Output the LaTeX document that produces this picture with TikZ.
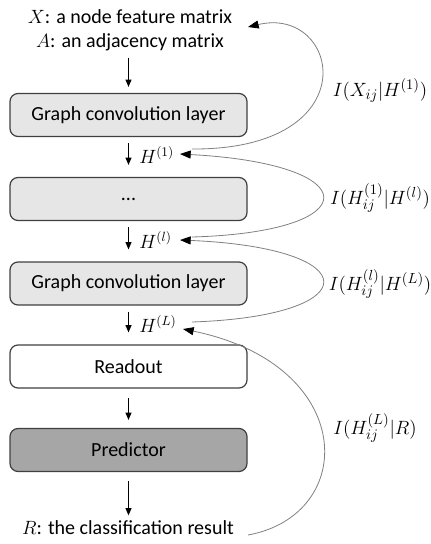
\documentclass[tikz,border=0pt]{standalone}
\usepackage{fontspec}
\setmainfont{Carlito}
\usetikzlibrary{arrows.meta}
\definecolor{boxlight}{HTML}{E6E6E6}
\definecolor{boxdark}{HTML}{A6A6A6}
\definecolor{edgecol}{HTML}{404040}
\definecolor{curvecol}{HTML}{808080}
\begin{document}
\begin{tikzpicture}[x=0.75pt,y=-0.75pt,
  layer/.style={draw=edgecol, line width=0.9pt, rounded corners=6pt,
    minimum width=177.75pt, minimum height=32.25pt, inner sep=0pt,
    font=\fontsize{15}{18}\selectfont},
  txt/.style={font=\fontsize{15}{18}\selectfont, inner sep=0pt},
  mlab/.style={font=\fontsize{15.5}{18}\selectfont, inner sep=0pt},
  hlab/.style={font=\fontsize{14.5}{17}\selectfont, inner sep=0pt, anchor=west},
  flow/.style={-{Triangle[length=5.5pt,width=4.5pt]}, line width=0.8pt, black},
  info/.style={-{Triangle[length=8pt,width=6pt,color=black]}, draw=curvecol, line width=0.6pt}]
\useasboundingbox (0,0) rectangle (431,544);

% main column
\node[txt] (in1) at (130,17) {$X$: a node feature matrix};
\node[txt] (in2) at (130,42) {$A$: an adjacency matrix};
\node[layer, fill=boxlight] (g1) at (128.5,115) {Graph convolution layer};
\node[layer, fill=boxlight] (g2) at (128.5,199) {...};
\node[layer, fill=boxlight] (g3) at (128.5,283.5) {Graph convolution layer};
\node[layer, fill=white] (ro) at (128.5,366.5) {Readout};
\node[layer, fill=boxdark] (pr) at (128.5,450) {Predictor};
\node[txt] (res) at (128,528) {$R$: the classification result};

% H labels
\node[hlab] (h1) at (139,155) {$H^{(1)}$};
\node[hlab] (hl) at (139,240) {$H^{(l)}$};
\node[hlab] (hL) at (139,324) {$H^{(L)}$};

% flow arrows
\draw[flow, shorten <=5pt, shorten >=4.5pt] (g1.north |- in2.south) -- (g1.north);
\draw[flow, shorten <=4.5pt, shorten >=9pt] (g1.south) -- (g2.north);
\draw[flow, shorten <=4.5pt, shorten >=9pt] (g2.south) -- (g3.north);
\draw[flow, shorten <=4.5pt, shorten >=9pt] (g3.south) -- (ro.north);
\draw[flow, shorten <=7pt, shorten >=6pt] (ro.south) -- (pr.north);
\draw[flow, shorten <=7pt, shorten >=4pt] (pr.south) -- (pr.south |- res.north);

% curve end points
\coordinate (c1s) at (192,149);
\coordinate (c1e) at (248,27);
\coordinate (c2s) at (192,237);
\coordinate (c2e) at (180,154);
\coordinate (c3s) at (192,322);
\coordinate (c3e) at (180,240);
\coordinate (c4s) at (248,535);
\coordinate (c4e) at (183,329);

\draw[info] (c1s) .. controls (370,150) and (340,5) .. (c1e);
\draw[info] (c2s) .. controls (368,232) and (368,164) .. (c2e);
\draw[info] (c3s) .. controls (368,316) and (368,248) .. (c3e);
\draw[info] (c4s) .. controls (358,515) and (358,365) .. (c4e);

% information labels
\node[mlab] (i1) at (380,90) {$I\big(X_{ij}\big|H^{(1)}\big)$};
\node[mlab] (i2) at (380,198) {$I(H_{ij}^{(1)}|H^{(l)})$};
\node[mlab] (i3) at (380,284) {$I(H_{ij}^{(l)}|H^{(L)})$};
\node[mlab] (i4) at (375,428) {$I(H_{ij}^{(L)}|R)$};
\end{tikzpicture}
\end{document}
